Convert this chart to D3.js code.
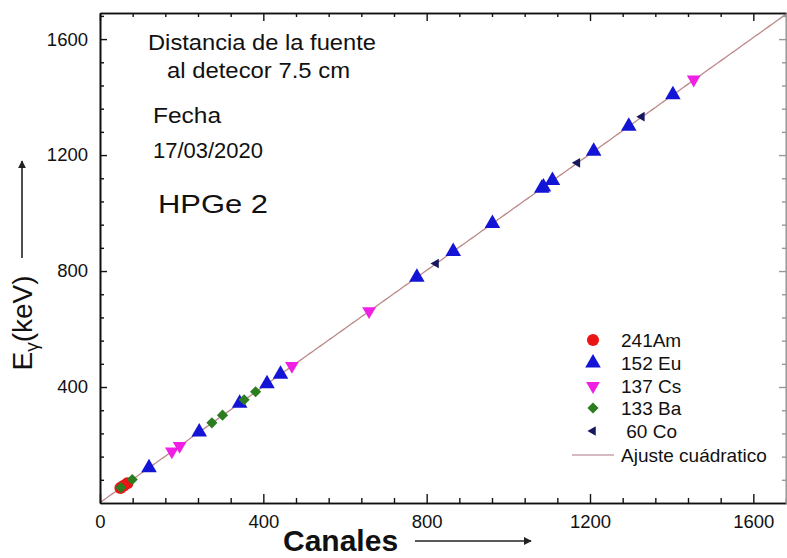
<!DOCTYPE html>
<html>
<head>
<meta charset="utf-8">
<script src="https://cdn.jsdelivr.net/npm/d3@7"></script>
<style>
  html, body { margin: 0; padding: 0; background: #fff; }
  svg { display: block; font-family: "Liberation Sans", Arial, sans-serif; }
</style>
</head>
<body>
<svg id="chart" width="787" height="558"></svg>
<script>
// Energy calibration points: channel number vs. gamma energy (keV)
const amChannels = [50, 58, 67];
const amEnergies = [52, 59.5, 68];

const euChannels = [120, 243, 342, 409, 442, 776, 865, 961, 1082, 1086, 1108, 1209, 1295, 1403];
const euEnergies = [121.8, 244.7, 344.3, 411.1, 444.0, 778.9, 867.4, 964.1, 1085.8, 1089.7, 1112.1, 1212.9, 1299.1, 1408.0];

const csChannels = [176, 195, 470, 659, 1454];
const csEnergies = [178, 197, 473, 661.7, 1460.8];

const baChannels = [51, 79, 274, 300, 353, 381];
const baEnergies = [53.2, 81.0, 276.4, 302.9, 356.0, 383.8];

const coChannels = [823, 1169, 1327];
const coEnergies = [826, 1173.2, 1332.5];

// Quadratic fit E = a + b*ch + c*ch^2
const fitCoef = [1.5, 1.0, 1.5e-6];

const xMajorTicks = [0, 400, 800, 1200, 1600];
const yMajorTicks = [400, 800, 1200, 1600];
const minorStep = 80;

const legendLabels = ["241Am", "152 Eu", "137 Cs", "133 Ba", " 60 Co"];
const fitLabel = "Ajuste cuádratico";

const svg = d3.select("#chart");
const W = 787, H = 558;
const plot = { left: 100, right: 786, top: 13, bottom: 503 };

const x = d3.scaleLinear().domain([0, 1680]).range([plot.left, plot.right]);
const y = d3.scaleLinear().domain([0, 1690]).range([plot.bottom, plot.top]);
const fmt = d3.format("d");

svg.append("rect").attr("width", W).attr("height", H).attr("fill", "#fff");

// series definitions (style per isotope)
const series = [
  { ch: amChannels, e: amEnergies, type: d3.symbolCircle, size: 115, rot: 0, color: "#ec1515" },
  { ch: euChannels, e: euEnergies, type: d3.symbolTriangle, size: 105, rot: 0, color: "#1414d6" },
  { ch: csChannels, e: csEnergies, type: d3.symbolTriangle, size: 82, rot: 180, color: "#f01fe4" },
  { ch: baChannels, e: baEnergies, type: d3.symbolSquare, size: 62, rot: 45, color: "#2b7d20" },
  { ch: coChannels, e: coEnergies, type: d3.symbolTriangle, size: 40, rot: -90, color: "#17175e" }
];

// fitted curve
const fitPts = d3.range(0, 1680.1, 5).map(c => [c, fitCoef[0] + fitCoef[1] * c + fitCoef[2] * c * c]);
svg.append("path")
  .datum(fitPts)
  .attr("fill", "none")
  .attr("stroke", "#bd8888")
  .attr("stroke-width", 1.3)
  .attr("d", d3.line().x(d => x(d[0])).y(d => y(Math.min(d[1], 1690))));

// markers
const markers = svg.append("g");
series.forEach(s => {
  const sym = d3.symbol().type(s.type).size(s.size);
  markers.selectAll(null)
    .data(s.ch.map((c, i) => [c, s.e[i]]))
    .enter().append("path")
    .attr("d", sym)
    .attr("transform", d => `translate(${x(d[0])},${y(d[1])}) rotate(${s.rot})`)
    .attr("fill", s.color);
});

// axes
const fontTick = "18.5px";
const minorX = d3.range(0, 1681, minorStep).filter(v => v % 400 !== 0);
const minorY = d3.range(0, 1690, minorStep).filter(v => v % 400 !== 0);

function styleAxis(g) {
  g.select(".domain").attr("stroke", "#111").attr("stroke-width", 1.6);
  g.selectAll(".tick line").attr("stroke", "#111").attr("stroke-width", 1.4);
  g.selectAll(".tick text").attr("fill", "#111").style("font-size", fontTick)
    .style("font-family", '"Liberation Sans", Arial, sans-serif');
}

// bottom
svg.append("g").attr("transform", `translate(0,${plot.bottom})`)
  .call(d3.axisBottom(x).tickValues(xMajorTicks).tickFormat(fmt).tickSizeInner(-9).tickSizeOuter(0).tickPadding(12))
  .call(styleAxis);
svg.append("g").attr("transform", `translate(0,${plot.bottom})`)
  .call(d3.axisBottom(x).tickValues(minorX).tickSizeInner(-5).tickSizeOuter(0).tickFormat(""))
  .call(styleAxis);
// top
svg.append("g").attr("transform", `translate(0,${plot.top})`)
  .call(d3.axisTop(x).tickValues(xMajorTicks).tickSizeInner(-8).tickSizeOuter(0).tickFormat(""))
  .call(styleAxis);
svg.append("g").attr("transform", `translate(0,${plot.top})`)
  .call(d3.axisTop(x).tickValues(minorX).tickSizeInner(-4).tickSizeOuter(0).tickFormat(""))
  .call(styleAxis);
// left
svg.append("g").attr("transform", `translate(${plot.left},0)`)
  .call(d3.axisLeft(y).tickValues(yMajorTicks).tickFormat(fmt).tickSizeInner(-7).tickSizeOuter(0).tickPadding(12))
  .call(styleAxis);
svg.append("g").attr("transform", `translate(${plot.left},0)`)
  .call(d3.axisLeft(y).tickValues(minorY).tickSizeInner(-4).tickSizeOuter(0).tickFormat(""))
  .call(styleAxis);
// right
svg.append("g").attr("transform", `translate(${plot.right},0)`)
  .call(d3.axisRight(y).tickValues(yMajorTicks).tickSizeInner(-7).tickSizeOuter(0).tickFormat(""))
  .call(styleAxis)
  .selectAll("line, path").attr("stroke", "#999");
svg.append("g").attr("transform", `translate(${plot.right},0)`)
  .call(d3.axisRight(y).tickValues(minorY).tickSizeInner(-4).tickSizeOuter(0).tickFormat(""))
  .call(styleAxis)
  .selectAll("line, path").attr("stroke", "#999");

// axis titles and arrows
const defs = svg.append("defs");
defs.append("marker").attr("id", "arrowHead")
  .attr("viewBox", "0 0 10 10").attr("refX", 9).attr("refY", 5)
  .attr("markerWidth", 5).attr("markerHeight", 5).attr("orient", "auto")
  .append("path").attr("d", "M0,0 L10,5 L0,10 z").attr("fill", "#222");

svg.append("text")
  .attr("x", 283).attr("y", 551)
  .style("font-size", "30px").style("font-weight", "bold").attr("fill", "#111")
  .text("Canales");
svg.append("line")
  .attr("x1", 415).attr("y1", 541).attr("x2", 531).attr("y2", 541)
  .attr("stroke", "#222").attr("stroke-width", 1.6).attr("marker-end", "url(#arrowHead)");

const yTitle = svg.append("text")
  .attr("transform", "translate(32,323) rotate(-90)")
  .attr("text-anchor", "middle")
  .style("font-size", "28px").attr("fill", "#111");
yTitle.append("tspan").text("E");
yTitle.append("tspan").attr("dy", 6).style("font-size", "19px").text("γ");
yTitle.append("tspan").attr("dy", -6).text("(keV)");
svg.append("line")
  .attr("x1", 22).attr("y1", 258).attr("x2", 22).attr("y2", 161)
  .attr("stroke", "#222").attr("stroke-width", 1.6).attr("marker-end", "url(#arrowHead)");

// annotations
const notes = [
  { t: "Distancia de la fuente", x: 148, y: 50, len: 228, fs: 22 },
  { t: "al detecor 7.5 cm", x: 167, y: 78, len: 183, fs: 22 },
  { t: "Fecha", x: 153, y: 123, len: 68, fs: 22 },
  { t: "17/03/2020", x: 153, y: 158, len: 110, fs: 22 },
  { t: "HPGe 2", x: 158, y: 213, len: 110, fs: 26 }
];
svg.append("g").selectAll("text").data(notes).enter().append("text")
  .attr("x", d => d.x).attr("y", d => d.y)
  .attr("textLength", d => d.len).attr("lengthAdjust", "spacingAndGlyphs")
  .style("font-size", d => d.fs + "px").attr("fill", "#111")
  .text(d => d.t);

// legend
const legend = svg.append("g");
const legRowY = [340, 363, 386, 408, 431];
const legMarkX = 593, legTextX = 621;
series.forEach((s, i) => {
  legend.append("path")
    .attr("d", d3.symbol().type(s.type).size(s.size)())
    .attr("transform", `translate(${legMarkX},${legRowY[i]}) rotate(${s.rot})`)
    .attr("fill", s.color);
  legend.append("text")
    .attr("x", legTextX).attr("y", legRowY[i]).attr("dy", "0.36em")
    .attr("xml:space", "preserve")
    .style("font-size", "19px").style("white-space", "pre").attr("fill", "#111")
    .text(legendLabels[i]);
});
legend.append("line")
  .attr("x1", 572).attr("x2", 614).attr("y1", 455).attr("y2", 455)
  .attr("stroke", "#c9a2ac").attr("stroke-width", 1.4);
legend.append("text")
  .attr("x", legTextX).attr("y", 455).attr("dy", "0.36em")
  .style("font-size", "19px").attr("fill", "#111")
  .text(fitLabel);
</script>
</body>
</html>
